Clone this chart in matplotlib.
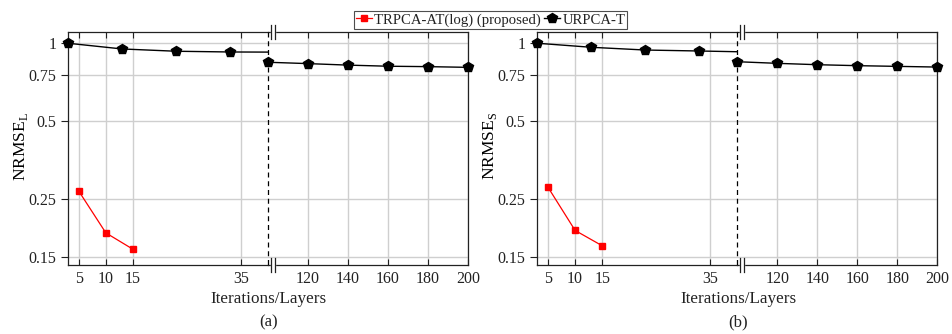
import matplotlib
matplotlib.use('Agg')
import matplotlib.pyplot as plt
from matplotlib.lines import Line2D
from matplotlib.patches import Rectangle
from matplotlib.ticker import NullLocator

plt.rcParams['font.family'] = ['Liberation Serif', 'DejaVu Serif']
plt.rcParams['mathtext.fontset'] = 'custom'
plt.rcParams['mathtext.rm'] = 'Liberation Serif'
plt.rcParams['font.size'] = 11
plt.rcParams['text.color'] = '#222222'
plt.rcParams['xtick.labelcolor'] = '#222222'
plt.rcParams['ytick.labelcolor'] = '#222222'

# data
red_x = [5, 10, 15]
red_a = [0.269, 0.186, 0.161]
red_b = [0.278, 0.190, 0.166]

blk_x_left = [3, 13, 23, 33, 40]
blk_a_left = [0.995, 0.946, 0.927, 0.921, 0.92]
blk_b_left = [0.995, 0.96, 0.937, 0.929, 0.923]

blk_x_right = [100, 120, 140, 160, 180, 200]
blk_a_right = [0.841, 0.831, 0.82, 0.812, 0.809, 0.804]
blk_b_right = [0.845, 0.833, 0.823, 0.816, 0.811, 0.806]

xticks_left = [5, 10, 15, 35]
xticks_right = [120, 140, 160, 180, 200]
yticks = [0.15, 0.25, 0.5, 0.75, 1]
ytick_labels = ['0.15', '0.25', '0.5', '0.75', '1']

W, H = 953, 334
fig = plt.figure(figsize=(W / 100, H / 100), dpi=100)

TOP, BOT = 32, 265
GRID = '#cfcfcf'
SPINE = '#222222'


def rect(x0, w):
    return [x0 / W, 1 - BOT / H, w / W, (BOT - TOP) / H]


def style(ax):
    ax.set_yscale('log')
    ax.set_ylim(0.140, 1.099)
    ax.set_yticks(yticks)
    ax.set_yticklabels(ytick_labels)
    ax.yaxis.set_minor_locator(NullLocator())
    ax.grid(True, color=GRID, linewidth=1.0)
    ax.set_axisbelow(True)
    for s in ax.spines.values():
        s.set_color(SPINE)
        s.set_linewidth(0.9)
    ax.tick_params(axis='x', direction='in', top=True, length=4,
                   width=0.8, color=SPINE, pad=4, labelsize=11.5)
    ax.tick_params(axis='y', direction='out', length=5, width=0.8,
                   color=SPINE, labelsize=11.5)


def panel(x0, red_y, blk_left, blk_right, sub, letter):
    axl = fig.add_axes(rect(x0, 200))
    axr = fig.add_axes(rect(x0 + 200, 200))
    style(axl)
    style(axr)

    axl.set_xlim(3, 40)
    axl.set_xticks(xticks_left)
    axr.set_xlim(100, 200)
    axr.set_xticks(xticks_right)

    axl.spines['right'].set_visible(False)
    axr.spines['left'].set_visible(False)
    axr.tick_params(axis='y', left=False, labelleft=False)

    axl.plot(red_x, red_y, color='red', lw=0.9, marker='s', ms=4.6,
             clip_on=False, zorder=3)
    axl.plot(blk_x_left, blk_left, color='black', lw=1.0, marker='p',
             ms=7.8, markevery=[0, 1, 2, 3], clip_on=False, zorder=3)
    axr.plot(blk_x_right, blk_right, color='black', lw=1.0, marker='p',
             ms=7.8, clip_on=False, zorder=4)

    axl.set_ylabel('NRMSE$_{\\mathrm{' + sub + '}}$', fontsize=12.5)
    axl.yaxis.set_label_coords(-0.19, 0.51)

    xb = x0 + 200
    # dashed separator between the two x ranges
    fig.add_artist(Line2D([xb / W, xb / W], [1 - TOP / H, 1 - BOT / H],
                          transform=fig.transFigure, color='black', lw=0.9,
                          linestyle=(0, (4, 3)), zorder=3))
    fig.text((xb + 1) / W, 1 - 299 / H, 'Iterations/Layers', ha='center',
             va='center', fontsize=12.3)
    fig.text((xb + 1) / W, 1 - 322 / H, '(' + letter + ')', ha='center',
             va='center', fontsize=12)

    # break marks on top and bottom spine
    for yc in (TOP, BOT):
        fig.add_artist(Rectangle(((xb + 3) / W, 1 - (yc + 1.5) / H),
                                 4 / W, 3 / H, transform=fig.transFigure,
                                 color='white', zorder=10))
        for xm in (xb + 3, xb + 7):
            fig.add_artist(Line2D([xm / W, xm / W],
                                  [1 - (yc - 7) / H, 1 - (yc + 7) / H],
                                  transform=fig.transFigure, color=SPINE,
                                  lw=0.9, zorder=11))
    return axl


ax_a = panel(68, red_a, blk_a_left, blk_a_right, 'L', 'a')
ax_b = panel(537.3, red_b, blk_b_left, blk_b_right, 'S', 'b')

handles = [Line2D([], [], color='red', lw=0.9, marker='s', ms=4.6),
           Line2D([], [], color='black', lw=1.0, marker='p', ms=7.5)]
leg = fig.legend(handles, ['TRPCA-AT(log) (proposed)', 'URPCA-T'],
                 loc='center', bbox_to_anchor=(490.5 / W, 1 - 20 / H),
                 ncol=2, fontsize=10.6, frameon=True, fancybox=False,
                 borderpad=0.15, handlelength=1.1, handletextpad=0.15,
                 columnspacing=0.2, borderaxespad=0)
leg.get_frame().set_edgecolor(SPINE)
leg.get_frame().set_linewidth(0.8)

fig.savefig('out.png', dpi=100)
